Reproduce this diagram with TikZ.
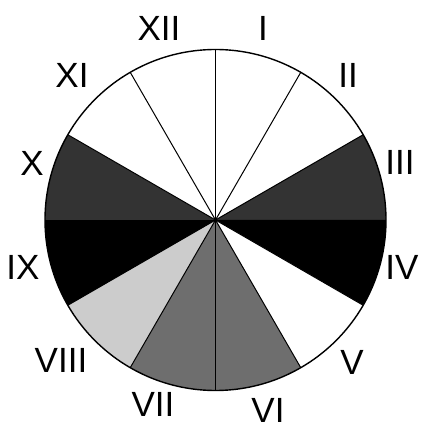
\documentclass[tikz,border=0pt]{standalone}
\usepackage{fontspec}
\setmainfont{Liberation Sans}
\definecolor{darkg}{gray}{0.2}
\definecolor{midg}{gray}{0.43}
\definecolor{lightg}{gray}{0.8}
\tikzset{
  lbl/.style={inner sep=0pt, anchor=center, font=\fontsize{35}{35}\selectfont},
  radius line/.style={line width=1pt, draw=black},
  rim/.style={line width=1.4pt, draw=black}
}
\begin{document}
\begin{tikzpicture}[x=1pt,y=1pt]
\useasboundingbox (0,0) rectangle (423,424);
\coordinate (c) at (215.5,204);
\def\R{170.5}
% sectors: start angle, colour
\foreach \a/\col in {60/white,30/white,0/darkg,-30/black,-60/white,-90/midg,-120/midg,-150/lightg,180/black,150/darkg,120/white,90/white}{
  \fill[\col] (c) -- ++(\a:\R) arc[start angle=\a, end angle=\a+30, radius=\R] -- cycle;
}
% radii
\foreach \a in {30,60,90,120,150,210,240,270,300,330}{
  \draw[radius line] (c) -- ++(\a:\R);
}
\draw[rim] (c) circle[radius=\R];
% labels
\node[lbl] (l12) at (159,396) {XII};
\node[lbl] (l1) at (263,396) {I};
\node[lbl] (l2) at (348,349) {II};
\node[lbl] (l3) at (400,262) {III};
\node[lbl] (l4) at (402,157) {IV};
\node[lbl] (l5) at (352,62) {V};
\node[lbl] (l6) at (268,14) {VI};
\node[lbl] (l7) at (153,20) {VII};
\node[lbl] (l8) at (61,64) {VIII};
\node[lbl] (l9) at (23,157) {IX};
\node[lbl] (l10) at (32,261) {X};
\node[lbl] (l11) at (72,349) {XI};
\end{tikzpicture}
\end{document}
